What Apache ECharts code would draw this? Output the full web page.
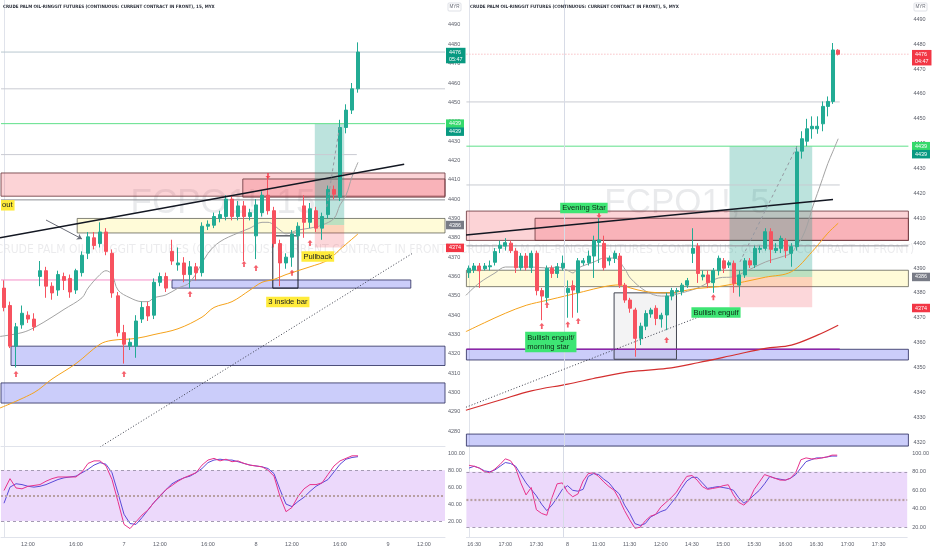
<!DOCTYPE html>
<html>
<head>
<meta charset="utf-8">
<script src="https://cdn.jsdelivr.net/npm/echarts@6.0.0/dist/echarts.min.js"></script>
<style>
html,body{margin:0;padding:0;background:#ffffff;}
#chart{width:932px;height:550px;}
</style>
</head>
<body>
<div id="chart"></div>
<script>
// ================= LEFT PANEL : FCPO1!, 15 min =================
const L_SLOTS = 74;
const L_open  = [4354,4345,4324,4335,4340,4338,4360,4363,4355,4353, 4360,4359,4353,4362,4372,4380,4377,4383,4372,4350, 4331,4324,4324,4338,4344.5,4340,4357,4360,4373,4366, 4367,4361,4365,4362,4386,4386.5,4390,4391,4400,4391, 4396.5,4391,4381,4393,4402,4394,4377,4367,4370,4381, 4396.5,4388,4394,4385,4392,4405,4401,4437,4446,4457];
const L_close = [4344,4324,4334,4341,4338,4334,4363,4355,4351.5,4361, 4358,4352,4363,4371,4380.5,4376,4383,4373,4351.5,4331, 4325,4326,4337,4344,4339.6,4357,4360,4354,4368,4367, 4361,4365,4362,4386,4387,4391,4392,4400,4391,4396.5, 4391,4393,4397,4402,4394,4377,4367,4370,4382,4386, 4388,4395,4385,4391,4405,4402.5,4437,4446,4457,4476];
const L_low   = [4342,4323,4313,4333,4336,4332,4355,4349,4348,4350, 4353,4349,4351,4360,4369,4374,4375,4371,4349,4329, 4315,4322,4318,4336,4337,4338,4355,4352,4366,4363, 4357,4354,4358,4360,4384,4385,4388,4389,4389,4389, 4368,4389,4369,4391,4392,4375,4355,4364,4365,4379, 4380,4385,4383,4379,4390,4400,4399,4434,4444,4455];
const L_high  = [4358,4347,4336,4345,4342,4341,4368,4365,4357,4363, 4362,4361,4364,4373,4383,4383,4388,4385,4374,4352, 4335,4328,4340,4347,4347,4359,4362,4362,4379,4375, 4370,4368,4367,4388,4389,4393,4394,4402,4402,4399, 4399,4395,4400,4404,4412,4396,4379,4372,4384,4388, 4402,4398,4396,4393,4407,4407,4441,4449,4460,4481];
// moving averages: [bar index, price]
const L_maFast = [[-0.7,4329],[3,4331],[5,4333.5],[8,4339],[10,4343],[13,4349],[14,4354],[16,4361],[17,4363],[18,4361],[19,4353],[21,4349],[23,4347],[24,4347],[25,4349],[27,4350.5],[29,4354],[31,4357],[34,4372],[36,4378],[39,4382.5],[41,4385],[43,4388],[44,4388],[46,4384],[47,4382],[49,4384],[51,4385],[53,4386.6],[55,4390],[56,4397],[57,4402],[58,4411.5],[59,4419]];
const L_maSlow = [[-0.7,4292],[5,4300],[8,4307],[12,4315],[16,4325],[18,4327],[22,4328],[25,4330],[29,4333],[33,4339],[35,4344],[38,4347],[41,4353],[43,4357],[45,4358.5],[47,4361],[51,4365],[54,4368.5],[56,4374],[59,4382]];
const L_stochK = [56,70,59,58,61,62,63,67,70,72, 72,72,72,78,88,91,91,85,69,43, 16,11,19,27,33,42,50,57,62,67, 71,74,77,86,92,94,91,93,90,91, 88,86,85,84,80,73,49,31,36,49, 58,63,63,65,75,85,91,94,97,97];
const L_stochD = [41,60,64,63,61,60,61,63,66,69, 71,72,73,77,81,86,89,87,77,53, 28,17,16,24,33,42,49,57,64,68, 71,73,77,82,89,92,93,92,92,90, 88,86,85,84,82,76,57,40,37,43, 48,55,61,65,69,78,87,93,95,96];
const L_tickIdx  = [4,12,20,26,34,42,48,56,64,70];
const L_tickText = ['12:00','16:00','7','12:00','16:00','8','12:00','16:00','9','12:00'];
const L_priceTicks = [4280,4290,4300,4310,4320,4330,4340,4350,4360,4370,4380,4390,4400,4410,4420,4430,4440,4450,4460,4470,4480,4490];
// drawings (bar index / price)
const L_lastPrice = 4476;
const L_level1 = 4457;
const L_target = 4439;
const L_level2 = [[-0.5,4423],[58.8,4423]];
const L_redZone = [-0.5,4413.5,73.5,4401.5];
const L_redZoneLine = 4399.6;
const L_innerRed = [39.8,4410.4,73.5,4401];
const L_yellowZone = [12.2,4390,73.5,4382.5];
const L_blueZone1 = [28,4358.2,67.8,4354];
const L_blueZone2 = [1.17,4324,73.5,4314];
const L_blueZone3 = [-0.5,4305,73.5,4294.6];
const L_pinkLine = [[-0.5,4358.2],[28,4358.2]];
const L_insideBox = [44.8,4381,49,4354];
const L_posTarget = [51.8,4439,56.7,4386.6];
const L_posStop = [51.8,4386.6,56.7,4375];
const L_trend = [[-0.67,4380],[66.7,4418]];
const L_dotted = [[16,4271.9],[68.2,4372.2]];
const L_dashed = [[53.8,4396],[55.9,4437]];
const L_arrowLine = [[7,4389.2],[13,4379.4]];
const L_upArrows = [[2,4309.6],[20,4309.6],[31,4351],[40,4366.5],[42,4364.4],[48,4362],[51,4377.3]];
const L_downArrows = [[44,4412]];
const L_notes = [['3 inside bar',47.3,4346.8],['Pullback',52.3,4370.3]];
const L_breakNote = ['out',-0.5,4396.8];
const L_tags = [[4476,'4476\n05:47','last'],[4439,'4439','target'],[4439,'4439','target2'],[4386.6,'4386','entry'],[4374.8,'4374','stop']];

// ================= RIGHT PANEL : FCPO1!, 5 min =================
const R_SLOTS = 85;
const R_open  = [4388.1,4389.2,4390.8,4389.7,4390.5,4392.3,4397.9,4398.8,4400,4396.8, 4390.1,4394.8,4390.1,4395.9,4380.9,4378.1,4389.9,4387.8,4390.1,4380.1, 4382.9,4380.1,4392.1,4392.1,4394.8,4400.3,4399.9,4392.9,4393.9,4394.8, 4383.1,4377.1,4373.1,4361.7,4366.6,4371.5,4373.8,4369.5,4371.1,4378.7, 4380.5,4380.5,4383.1,4395.9,4398.8,4386.5,4387.2,4384.1,4388.9,4392.9, 4391.2,4391.9,4383.1,4387.2,4392.9,4391.2,4397.5,4397.9,4404.6,4397.0, 4397.9,4401.0,4395.9,4398.6,4437,4441,4446,4446,4448,4455, 4457,4477.6];
const R_close = [4389.9,4390.8,4388.9,4390.8,4390.9,4396.6,4399.2,4400.2,4397,4390.1, 4394.8,4390.1,4395.9,4380.9,4378.7,4389.9,4387.8,4390.5,4391.9,4381.8, 4381.1,4392.9,4392.9,4394.8,4401.0,4401.3,4390.1,4393.9,4395.9,4383.1, 4377.1,4373.8,4361.7,4366.6,4371.7,4373.1,4369.7,4371.0,4378.7,4380.9, 4380.9,4383.1,4384.9,4397.9,4387.8,4387.2,4384.1,4388.9,4393.9,4389.9, 4392.1,4383.8,4387.2,4392.9,4391.2,4397.9,4397.9,4404.6,4397.5,4397.9, 4401.9,4397.0,4398.6,4436.7,4442,4446,4447,4447,4455,4457, 4477.7,4476];
const R_low   = [4386,4388,4382,4389,4389,4391,4396,4397,4396,4388, 4389,4389,4388,4379,4369,4376,4386,4386,4389,4370, 4370,4372,4391,4391,4386,4392,4389,4391,4392,4382, 4376,4372,4354.3,4359,4365,4370,4367,4366,4365,4377, 4379,4379,4382,4392,4384,4385,4382,4380,4387,4388, 4390,4380,4378.5,4386,4390,4390,4396,4397,4392,4396, 4396,4394,4390.5,4397,4434,4439,4442,4444,4445,4451, 4456,4475.5];
const R_high  = [4391,4392,4392,4392,4393,4398,4401,4402,4401,4398, 4396,4396,4397,4397,4382,4391,4391,4392,4395,4385, 4385,4394,4394,4397,4403,4410,4403,4395,4397,4396, 4384,4378,4374,4368,4373,4374,4375,4372,4380,4382, 4382,4384,4386,4406,4400,4389,4389,4390,4395,4394, 4393,4393,4389,4394,4394,4399,4399,4406,4406,4400, 4403,4402,4400,4439,4445,4450,4451,4451,4457,4459, 4480.5,4478];
const R_maFast = [[-0.6,4379],[2,4384],[5,4388],[7,4390.4],[10,4390.4],[12,4390.4],[15,4390],[17,4390.4],[19,4389],[20,4388],[21,4390],[24,4392.4],[26,4394],[28,4394],[30,4389.5],[31,4386],[34,4380.7],[37,4378.7],[38,4378.7],[40,4379.5],[44,4382],[48,4386],[51,4386.5],[53,4388.4],[57,4392.4],[60,4394.4],[62,4396],[63,4399],[64,4402],[65,4407],[66,4414],[67,4420],[68,4426],[69,4432],[70,4437],[71,4442]];
const R_maSlow = [[-0.6,4364.4],[3,4368],[7,4371.8],[11,4375],[15,4377],[19,4379],[22,4380.5],[26,4382.5],[29,4383.2],[31,4382],[34,4380.5],[38,4380],[44,4381.8],[48,4382.5],[53,4384.5],[57,4386.3],[62,4388.5],[66,4396.6],[69,4404],[71,4408]];
const R_maLong = [[-0.6,4332.8],[6,4336.9],[12,4340.6],[19,4343.3],[25,4346],[31,4348.3],[38,4349.6],[44,4351.9],[51,4355],[57,4357.7],[62,4359],[67,4363],[71,4367]];
const R_stochK = [87,86,84,80,79,83,88,94,92,84, 68,55,63,39,35,33,52,67,68,58, 53,56,70,78,79,75,69,64,60,50, 38,28,19,20,27,32,34,42,47,52, 58,67,75,76,71,64,61,62,63,65, 66,55,47,44,49,61,69,77,75,73, 71,71,73,79,93,95,94,94,95,96, 98,98];
const R_stochD = [84,86,84,81,80,82,86,90,89,86, 77,68,61,54,45,38,44,52,61,65, 60,59,61,75,78,77,72,68,61,56, 44,35,24,22,24,31,34,37,39,46, 53,62,70,74,74,68,62,63,64,63, 62,60,52,46,50,55,60,67,75,73, 72,71,73,77,84,91,93,95,95,96, 97,97];
const R_tickIdx  = [1,7,13,19,25,31,37,43,49,55,61,67,73,79];
const R_tickText = ['16:30','17:00','17:30','8','11:00','11:30','12:00','14:30','15:00','15:30','16:00','16:30','17:00','17:30'];
const R_priceTicks = [4320,4330,4340,4350,4360,4370,4380,4390,4400,4410,4420,4430,4440,4450,4460,4470,4480,4490];
const R_lastPrice = 4476;
const R_level1 = [[-0.5,4456.8],[71.3,4456.8]];
const R_target = 4439;
const R_level2 = [[-0.5,4423.4],[71.3,4423.4]];
const R_redZone = [-0.5,4412.9,84.5,4401.1];
const R_redZoneLine = 4398.9;
const R_innerRed = [12.7,4410,84.5,4401.1];
const R_yellowZone = [-0.5,4389.1,84.5,4382.5];
const R_blueZone1 = [-0.5,4357.3,84.5,4353];
const R_purpleLine = [[-0.5,4357.3],[71.3,4357.3]];
const R_blueZone2 = [-0.5,4323.2,84.5,4300];
const R_grayBox = [27.9,4380,39.9,4353.3];
const R_posTarget = [50.1,4439,66,4386.4];
const R_posStop = [50.1,4386.4,66,4374.2];
const R_trend = [[-0.58,4403.3],[70,4417.6]];
const R_dashed = [[52.1,4392.4],[63.1,4439]];
const R_dotted = [[-0.58,4334],[47.5,4373]];
const R_vline = 18.27;
const R_upArrows = [[14,4366.7],[15,4375.1],[19,4367.3],[21,4368.7],[38,4361],[47,4378.2]];
const R_downArrows = [[25,4411.3]];
const R_notes = [['Evening Star',22.1,4414.1],['Bullish engulf',47.5,4372.1]];
const R_noteMulti = ['Bullish engulf/\nmorning star',10.8,4360.2];
const R_tags = [[4476,'4476\n04:47','lastR'],[4439,'4439','target'],[4439,'4439','target2'],[4386.4,'4386','entry'],[4373.9,'4374','stop']];
const STOCH_TICKS = [20,40,60,80,100];

// ================= BUILD =================
const UP = '#22ab94', DOWN = '#f7525f';
const FONT = "'Liberation Sans', Arial, sans-serif";
const NARROW = "'Liberation Sans Narrow', 'DejaVu Sans Condensed', 'Liberation Sans', sans-serif";
const AX = '#5d606b';
const K_COL = '#e8338c', D_COL = '#5b4ad8', BAND = '#ecd9fb';

function idx(n){ const a=[]; for(let i=0;i<n;i++) a.push(String(i)); return a; }
function candles(o,c,l,h){ return o.map((v,i)=>[v,c[i],l[i],h[i]]); }
function hl(v,x0,x1){ return [[x0,v],[x1,v]]; }
function zone(a, fill, border, bw){ return [{coord:[a[0],a[1]], itemStyle:{color:fill, borderColor:border, borderWidth:(bw===undefined?1:bw)}}, {coord:[a[2],a[3]]}]; }
function ln(xi, yi, data, color, width, type, z, smooth){
  return {type:'line', xAxisIndex:xi, yAxisIndex:yi, data:data, symbol:'none', smooth:smooth||false, silent:true, z:z||3,
          lineStyle:{color:color, width:width, type:type||'solid'}, clip:true, animation:false};
}
const ARROW = 'path://M4,0 L8,4.2 L5.4,4.2 L5.4,9 L2.6,9 L2.6,4.2 L0,4.2 Z';

function xLabelAxis(grid, n, ticks, texts){
  const map = {}; ticks.forEach((t,i)=>{ map[t]=texts[i]; });
  return {type:'category', gridIndex:grid, data:idx(n), boundaryGap:true,
    axisLine:{show:true, lineStyle:{color:'#e0e3eb'}}, axisTick:{show:false}, splitLine:{show:false},
    axisLabel:{interval:(i)=>map[i]!==undefined, formatter:(v,i)=>(map[i]||''), fontSize:5.5, color:AX, margin:4, fontFamily:FONT}};
}
function priceY(grid, min, max, ticks, margin){
  return {type:'value', gridIndex:grid, position:'right', min:min, max:max, scale:true,
    splitLine:{show:false}, axisTick:{show:false}, axisLine:{show:true, lineStyle:{color:'#e0e3eb'}},
    axisLabel:{customValues:ticks, formatter:(v)=>String(Math.round(v)), fontSize:5.5, color:AX, margin:margin, fontFamily:FONT}};
}
function stochY(grid, min, max, margin){
  return {type:'value', gridIndex:grid, position:'right', min:min, max:max,
    splitLine:{show:false}, axisTick:{show:false}, axisLine:{show:true, lineStyle:{color:'#e0e3eb'}},
    axisLabel:{customValues:STOCH_TICKS, formatter:(v)=>v.toFixed(2), fontSize:5.5, color:AX, margin:margin, fontFamily:FONT}};
}
function stochSeries(xi, yi, K, D){
  return [
    {type:'line', xAxisIndex:xi, yAxisIndex:yi, data:K, symbol:'none', silent:true, z:4, animation:false,
     lineStyle:{color:K_COL, width:1},
     markArea:{silent:true, label:{show:false}, itemStyle:{color:BAND}, data:[[{yAxis:20},{yAxis:80}]]},
     markLine:{silent:true, symbol:'none', label:{show:false}, animation:false, data:[
       {yAxis:80, lineStyle:{color:'#a59bb3', type:[3,3], width:1}},
       {yAxis:50, lineStyle:{color:'#b8a0a2', type:[2,2], width:2.2}},
       {yAxis:20, lineStyle:{color:'#a59bb3', type:[3,3], width:1}}]}},
    {type:'line', xAxisIndex:xi, yAxisIndex:yi, data:D, symbol:'none', silent:true, z:3, animation:false,
     lineStyle:{color:D_COL, width:1}}
  ];
}
function candleSeries(xi, yi, data, bw){
  return {type:'candlestick', xAxisIndex:xi, yAxisIndex:yi, data:data, barWidth:bw, z:5, silent:true, animation:false,
    itemStyle:{color:UP, color0:DOWN, borderColor:UP, borderColor0:DOWN, borderWidth:1}};
}
const RED_F='rgba(242,54,69,0.22)', RED_B='rgba(110,60,66,0.85)';
const YEL_F='rgba(255,235,59,0.2)', YEL_B='rgba(90,90,80,0.75)';
const BLU_F='rgba(98,104,240,0.33)', BLU_B='rgba(50,52,100,0.85)';
const TEAL_F='rgba(8,153,129,0.27)', STOP_F='rgba(242,54,69,0.2)';
const LVL='#c9cbd2', GREEN_L='#5fe08a';

const series = [];
// ---- left price pane
series.push(candleSeries(0,0,candles(L_open,L_close,L_low,L_high),'66%'));
series.push({type:'line', xAxisIndex:1, yAxisIndex:0, data:[], silent:true, z:1,
  markArea:{silent:true, label:{show:false}, animation:false, data:[
    zone(L_redZone,RED_F,RED_B), zone(L_innerRed,'rgba(242,54,69,0.2)',RED_B),
    zone(L_yellowZone,YEL_F,YEL_B), zone(L_blueZone1,BLU_F,BLU_B), zone(L_blueZone2,BLU_F,BLU_B), zone(L_blueZone3,BLU_F,BLU_B),
    zone(L_posTarget,TEAL_F,'rgba(0,0,0,0)',0), zone(L_posStop,STOP_F,'rgba(0,0,0,0)',0),
    zone(L_insideBox,'rgba(0,0,0,0)','#131722',1)]}});
series.push(ln(1,0,hl(L_lastPrice,-0.5,73.5),'#b8c7cf',1,'solid',2));
series.push(ln(1,0,hl(L_level1,-0.5,73.5),LVL,1,'solid',2));
series.push(ln(1,0,hl(L_target,-0.5,73.5),GREEN_L,1,'solid',2));
series.push(ln(1,0,L_level2,LVL,1,'solid',2));
series.push(ln(1,0,hl(L_redZoneLine,-0.5,73.5),'#8d8f96',1,'solid',2));
series.push(ln(1,0,L_pinkLine,'#f48fc8',1,'solid',2));
series.push(ln(1,0,L_trend,'#131722',1.5,'solid',6));
series.push(ln(1,0,L_dotted,'#3a3d4a',1,[1,2],6));
series.push(ln(1,0,L_dashed,'#9598a1',1,[3,3],6));
series.push(ln(1,0,L_maFast,'#a3a3a3',1,'solid',4,0.35));
series.push(ln(1,0,L_maSlow,'#f5a21b',1,'solid',4,0.35));
series.push({type:'line', xAxisIndex:1, yAxisIndex:0, data:[], silent:true, z:6,
  markLine:{silent:true, symbol:['none','arrow'], symbolSize:5, label:{show:false}, animation:false,
    lineStyle:{color:'#6a6d78', width:1, type:'solid'}, data:[[{coord:L_arrowLine[0]},{coord:L_arrowLine[1]}]]}});
series.push({type:'scatter', xAxisIndex:1, yAxisIndex:0, data:L_upArrows, symbol:ARROW, symbolSize:[5,6], itemStyle:{color:'#f23645'}, z:7, silent:true, animation:false});
series.push({type:'scatter', xAxisIndex:1, yAxisIndex:0, data:L_downArrows, symbol:ARROW, symbolRotate:180, symbolSize:[5,6], itemStyle:{color:'#f23645'}, z:7, silent:true, animation:false});
// ---- left stoch
stochSeries(2,1,L_stochK,L_stochD).forEach(s=>series.push(s));

// ---- right price pane
series.push(candleSeries(4,2,candles(R_open,R_close,R_low,R_high),'66%'));
series.push({type:'line', xAxisIndex:5, yAxisIndex:2, data:[], silent:true, z:1,
  markArea:{silent:true, label:{show:false}, animation:false, data:[
    zone(R_redZone,RED_F,RED_B), zone(R_innerRed,'rgba(242,54,69,0.2)',RED_B),
    zone(R_yellowZone,YEL_F,YEL_B), zone(R_blueZone1,BLU_F,BLU_B), zone(R_blueZone2,BLU_F,BLU_B),
    zone(R_posTarget,TEAL_F,'rgba(0,0,0,0)',0), zone(R_posStop,STOP_F,'rgba(0,0,0,0)',0),
    zone(R_grayBox,'rgba(120,123,134,0.09)','#434651',1)]},
  markLine:{silent:true, symbol:'none', label:{show:false}, animation:false, lineStyle:{color:'#d7dbe6', width:1, type:'solid'}, data:[{xAxis:R_vline}]}});
series.push(ln(5,2,hl(R_lastPrice,-0.5,84.5),'#f5a3aa',1,[1,2],2));
series.push(ln(5,2,R_level1,LVL,1,'solid',2));
series.push(ln(5,2,hl(R_target,-0.5,84.5),GREEN_L,1,'solid',2));
series.push(ln(5,2,R_level2,LVL,1,'solid',2));
series.push(ln(5,2,hl(R_redZoneLine,-0.5,84.5),'#8d8f96',1,'solid',2));
series.push(ln(5,2,R_purpleLine,'#8e24aa',1.5,'solid',2));
series.push(ln(5,2,R_trend,'#131722',1.5,'solid',6));
series.push(ln(5,2,R_dotted,'#3a3d4a',1,[1,2],6));
series.push(ln(5,2,R_dashed,'#9598a1',1,[3,3],6));
series.push(ln(5,2,R_maFast,'#a3a3a3',1,'solid',4,0.35));
series.push(ln(5,2,R_maSlow,'#f5a21b',1,'solid',4,0.35));
series.push(ln(5,2,R_maLong,'#d32f2f',1.2,'solid',4,0.35));
series.push({type:'scatter', xAxisIndex:5, yAxisIndex:2, data:R_upArrows, symbol:ARROW, symbolSize:[5,6], itemStyle:{color:'#f23645'}, z:7, silent:true, animation:false});
series.push({type:'scatter', xAxisIndex:5, yAxisIndex:2, data:R_downArrows, symbol:ARROW, symbolRotate:180, symbolSize:[5,6], itemStyle:{color:'#f23645'}, z:7, silent:true, animation:false});
// ---- right stoch
stochSeries(6,3,R_stochK,R_stochD).forEach(s=>series.push(s));
series.push({type:'line', xAxisIndex:7, yAxisIndex:3, data:[], silent:true, z:1,
  markLine:{silent:true, symbol:'none', label:{show:false}, animation:false, lineStyle:{color:'#d7dbe6', width:1, type:'solid'}, data:[{xAxis:R_vline}]}});

const chart = echarts.init(document.getElementById('chart'));
const option = {
  backgroundColor:'#ffffff',
  animation:false,
  grid:[
    {left:1, top:0, width:444, height:446},
    {left:1, top:447, width:444, height:90},
    {left:466.4, top:0, width:442, height:446},
    {left:466.4, top:447, width:442, height:90}
  ],
  xAxis:[
    {type:'category', gridIndex:0, data:idx(L_SLOTS), boundaryGap:true, axisLine:{show:true, lineStyle:{color:'#e0e3eb'}}, axisTick:{show:false}, axisLabel:{show:false}},
    {type:'value', gridIndex:0, min:-0.5, max:L_SLOTS-0.5, show:false},
    xLabelAxis(1, L_SLOTS, L_tickIdx, L_tickText),
    {type:'value', gridIndex:1, min:-0.5, max:L_SLOTS-0.5, show:false},
    {type:'category', gridIndex:2, data:idx(R_SLOTS), boundaryGap:true, axisLine:{show:true, lineStyle:{color:'#e0e3eb'}}, axisTick:{show:false}, axisLabel:{show:false}},
    {type:'value', gridIndex:2, min:-0.5, max:R_SLOTS-0.5, show:false},
    xLabelAxis(3, R_SLOTS, R_tickIdx, R_tickText),
    {type:'value', gridIndex:3, min:-0.5, max:R_SLOTS-0.5, show:false}
  ],
  yAxis:[
    priceY(0, 4272.4, 4502.9, L_priceTicks, 3),
    stochY(1, 1.1, 107.4, 3),
    priceY(2, 4318.4, 4497.8, R_priceTicks, 5),
    stochY(3, 9.5, 106.8, 5)
  ],
  series: series
};
chart.setOption(option);

// ---------- text overlays positioned through the chart's own scales ----------
function px(xi, yi, pt){ return chart.convertToPixel({xAxisIndex:xi, yAxisIndex:yi}, pt); }
function py(yi, v){ return chart.convertToPixel({yAxisIndex:yi}, v); }
const g = [];
function txt(x, y, text, o){
  g.push(Object.assign({type:'text', x:x, y:y, silent:true, z:100,
    style:Object.assign({text:text, fill:'#131722', fontSize:6, fontFamily:FONT, align:'left', verticalAlign:'middle'}, o||{})}));
}
// titles
txt(3, 7, 'CRUDE PALM OIL-RINGGIT FUTURES (CONTINUOUS: CURRENT CONTRACT IN FRONT), 15, MYX', {fontSize:4.5, fontFamily:NARROW, fontWeight:'bold', fill:'#2a2e39'});
txt(470, 7, 'CRUDE PALM OIL-RINGGIT FUTURES (CONTINUOUS: CURRENT CONTRACT IN FRONT), 5, MYX', {fontSize:4.5, fontFamily:NARROW, fontWeight:'bold', fill:'#2a2e39'});
// MYR boxes
[[448,3],[914,3]].forEach(p=>{
  g.push({type:'rect', silent:true, z:100, shape:{x:p[0], y:p[1], width:13, height:8, r:1}, style:{fill:'#fff', stroke:'#d1d4dc', lineWidth:0.7}});
  txt(p[0]+6.5, p[1]+4, 'MYR', {fontSize:4.6, align:'center', fill:'#6a6d78'});
});
// watermarks
function wm(cx, cy, big){
  g.push({type:'text', x:cx, y:cy-21, silent:true, z:0, style:{text:big, fill:'rgba(120,123,134,0.16)', fontSize:35, fontFamily:FONT, align:'center', verticalAlign:'middle'}});
  g.push({type:'text', x:cx, y:cy+26, silent:true, z:0, style:{text:'CRUDE PALM OIL-RINGGIT FUTURES (CONTINUOUS: CURRENT CONTRACT IN FRONT)', fill:'rgba(120,123,134,0.15)', fontSize:12, fontFamily:NARROW, align:'center', verticalAlign:'middle'}});
}
wm(223, 224, 'FCPO1!, 15');
wm(687, 224, 'FCPO1!, 5');
// notes
L_notes.forEach(n=>{ const p=px(1,0,[n[1],n[2]]); txt(p[0],p[1],n[0],{align:'center', fontSize:7.6, backgroundColor:'#ffeb3b', padding:[1.5,2,1,2]}); });
(function(){ const p=px(1,0,[L_breakNote[1],L_breakNote[2]]); txt(p[0],p[1],L_breakNote[0],{align:'left', fontSize:7.6, backgroundColor:'#ffeb3b', padding:[1.5,2,1,1]}); })();
R_notes.forEach(n=>{ const p=px(5,2,[n[1],n[2]]); txt(p[0],p[1],n[0],{align:'center', fontSize:7.6, backgroundColor:'#3ee574', fill:'#0e2a17', padding:[1.5,2,1,2]}); });
(function(){ const p=px(5,2,[R_noteMulti[1],R_noteMulti[2]]); txt(p[0],p[1],R_noteMulti[0],{align:'left', fontSize:7.6, lineHeight:9, backgroundColor:'#3ee574', fill:'#0e2a17', padding:[1.5,2,1,2]}); })();
// axis tags
const TAGSTYLE = {last:['#089981','#fff'], lastR:['#f23645','#fff'], target:['#35d96c','#fff'], target2:['#089981','#fff'], entry:['#787b86','#fff'], stop:['#f23645','#fff']};
function tags(list, yi, x){
  list.forEach(t=>{
    let y = py(yi, t[0]);
    if (t[2]==='target2') y += 8;
    if (t[2]==='last' || t[2]==='lastR') y += 3.5;
    const st = TAGSTYLE[t[2]];
    txt(x, y, t[1], {fontSize:5.4, lineHeight:7, backgroundColor:st[0], fill:st[1], padding:[1,3,0.5,3]});
  });
}
tags(L_tags, 0, 446);
tags(R_tags, 2, 912);
chart.setOption({graphic:g});
</script>
</body>
</html>
